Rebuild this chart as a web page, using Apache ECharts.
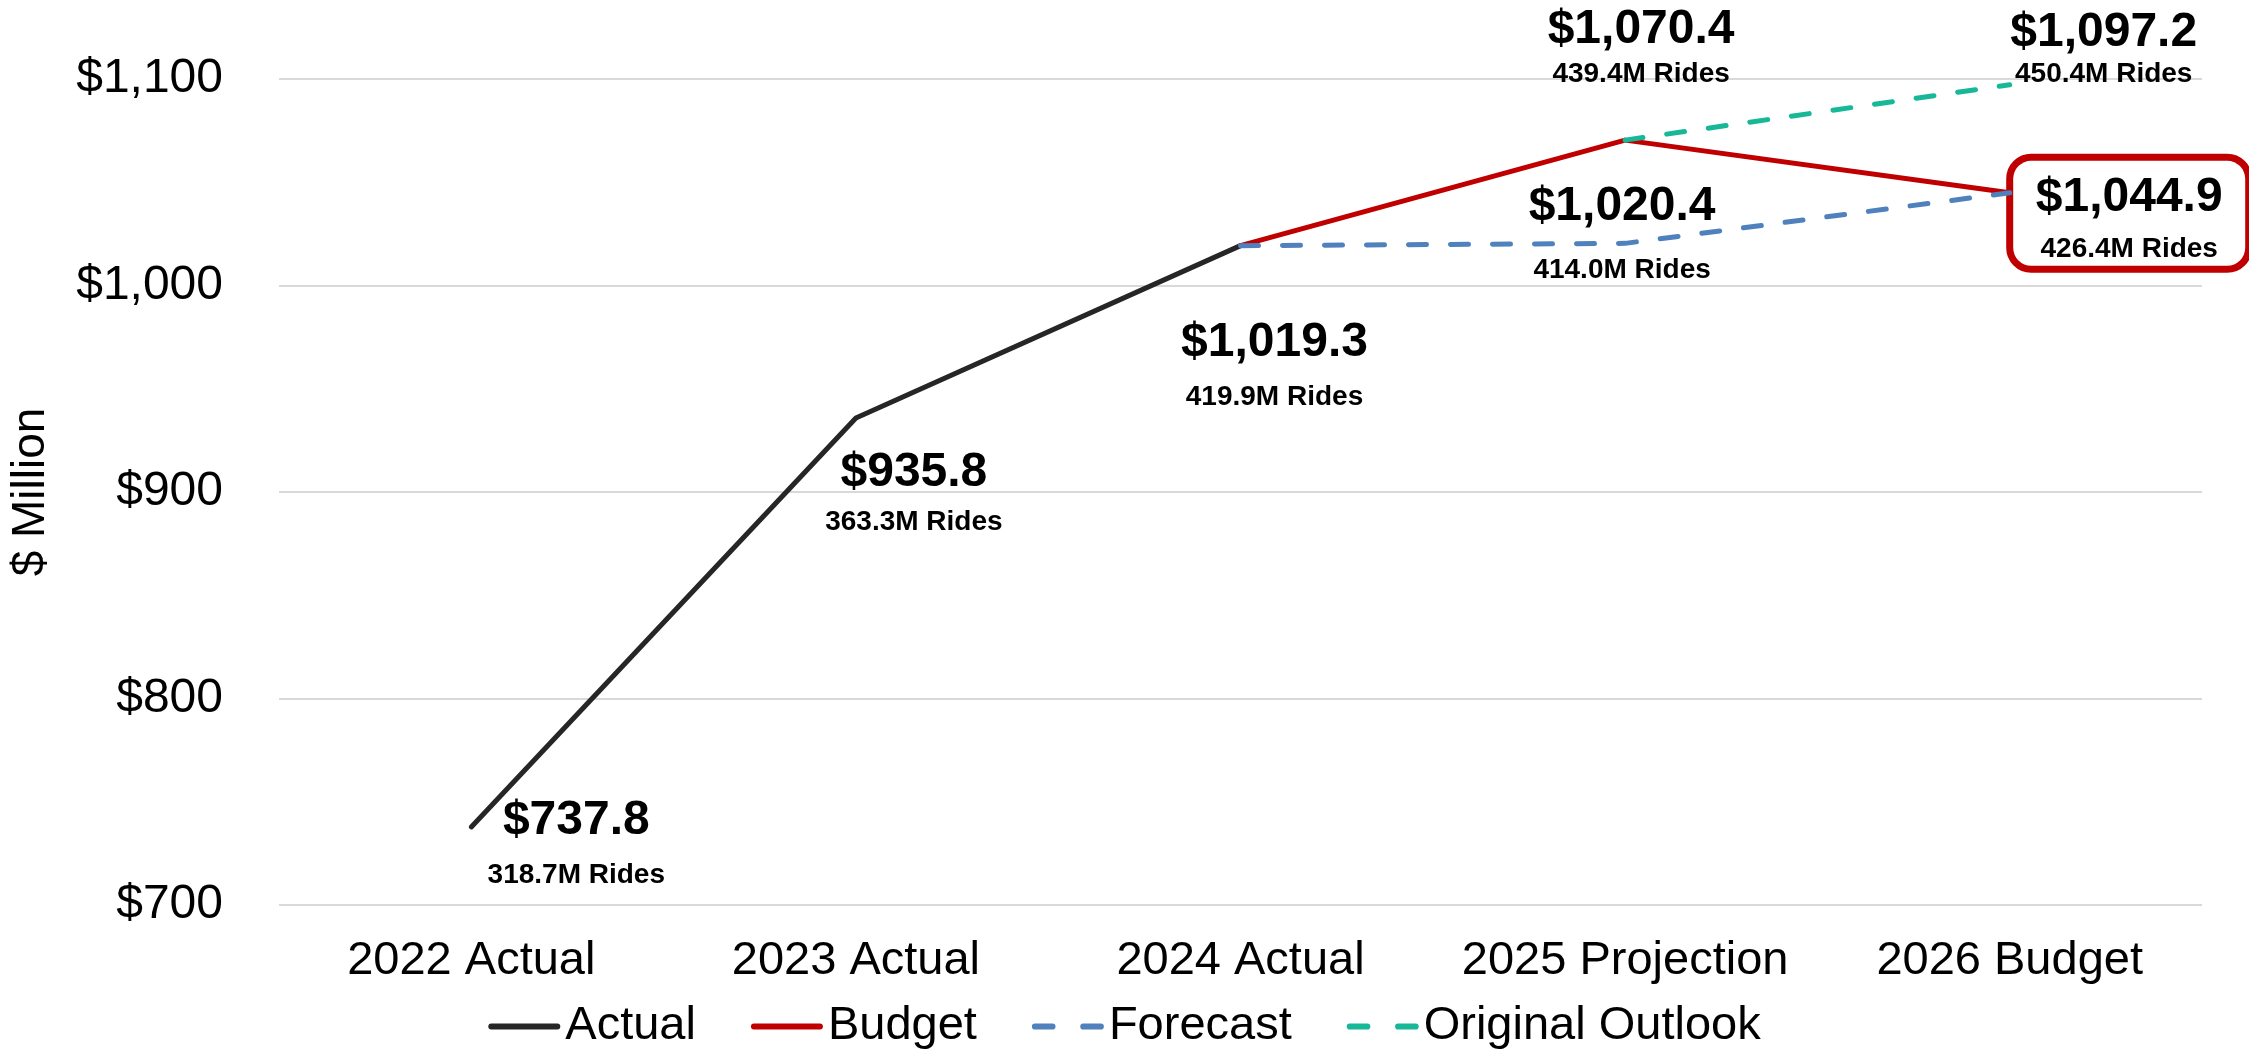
<!DOCTYPE html>
<html>
<head>
<meta charset="utf-8">
<script src="https://cdn.jsdelivr.net/npm/echarts@6/dist/echarts.min.js"></script>
<style>
  html, body { margin: 0; padding: 0; background: #ffffff; }
  #chart { width: 2249px; height: 1049px; }
</style>
</head>
<body>
<div id="chart"></div>
<script>
// Fare revenue ($ million) by year, with ridership notes
const categories = ['2022 Actual', '2023 Actual', '2024 Actual', '2025 Projection', '2026 Budget'];
const actualValues   = [737.8, 935.8, 1019.3, null, null];
const budgetValues   = [null, null, 1019.3, 1070.4, 1044.9];
const forecastValues = [null, null, 1019.3, 1020.4, 1044.9];
const outlookValues  = [null, null, null, 1070.4, 1097.2];

const actualRides   = ['318.7M Rides', '363.3M Rides', '419.9M Rides', null, null];
const budgetRides   = [null, null, null, '439.4M Rides', '426.4M Rides'];
const forecastRides = [null, null, null, '414.0M Rides', null];
const outlookRides  = [null, null, null, null, '450.4M Rides'];

const yTicks = [700, 800, 900, 1000, 1100];

const FONT = '"Liberation Sans", Arial, Helvetica, sans-serif';
const COLORS = { actual: '#262626', budget: '#C00000', forecast: '#4F81BD', outlook: '#17B897' };

// label placement: [dx, dy] from the point, and spacing between the two text lines
const actualPlace   = [[105, 10, 54], [58, 71, 49], [34, 113.5, 54.5], null, null];
const budgetPlace   = [null, null, null, [16, -94.6, 45], 'box'];
const forecastPlace = [null, null, null, [-3, -20.5, 63.5], null];
const outlookPlace  = [null, null, null, null, [94, -36, 41.5]];

function money(v) {
  return '$' + v.toLocaleString('en-US', { minimumFractionDigits: 1, maximumFractionDigits: 1 });
}

function richStyles(lv, lr) {
  return {
    v: { fontFamily: FONT, fontWeight: 'bold', fontSize: 48, lineHeight: lv, color: '#000' },
    r: { fontFamily: FONT, fontWeight: 'bold', fontSize: 28, lineHeight: lr, color: '#000' }
  };
}

function makeLabel(value, rides, place) {
  const text = '{v|' + money(value) + '}\n{r|' + rides + '}';
  if (place === 'box') {
    return {
      show: true, position: 'inside', offset: [119.5, 20.5],
      formatter: text, align: 'center', verticalAlign: 'middle',
      width: 232, padding: [1, 0, 2, 0],
      backgroundColor: '#ffffff', borderColor: '#C00000', borderWidth: 7, borderRadius: 18,
      rich: richStyles(72, 30)
    };
  }
  const lr = 32;
  const lv = 2 * place[2] - lr;
  return {
    show: true, position: 'inside', offset: [place[0], place[1]],
    formatter: text, align: 'center', verticalAlign: 'middle',
    rich: richStyles(lv, lr)
  };
}

function lineSeries(name, values, rides, places, color, dashed, z) {
  return {
    name: name,
    type: 'line',
    z: z,
    data: values.map(function (v, i) {
      if (v == null) return null;
      if (places[i] && rides[i]) return { value: v, label: makeLabel(v, rides[i], places[i]) };
      return { value: v, label: { show: false } };
    }),
    symbol: 'circle',
    symbolSize: 1,
    showSymbol: true,
    itemStyle: { color: color },
    lineStyle: { color: color, width: 5, type: dashed ? [18, 24] : 'solid', cap: 'round', join: 'round' },
    connectNulls: false,
    silent: true,
    emphasis: { disabled: true }
  };
}

const solidIcon = 'path://M3,0H69A3,3,0,0,1,69,6H3A3,3,0,0,1,3,0Z';
const dashIcon = 'path://M3,0H20A3,3,0,0,1,20,6H3A3,3,0,0,1,3,0ZM50,0H67A3,3,0,0,1,67,6H50A3,3,0,0,1,50,0Z';

const chart = echarts.init(document.getElementById('chart'), null, { renderer: 'canvas' });
chart.setOption({
  animation: false,
  backgroundColor: '#ffffff',
  textStyle: { fontFamily: FONT },
  grid: { left: 273, right: 47, top: 79, bottom: 144, containLabel: false },
  legend: {
    top: 998,
    left: 'center',
    itemWidth: 72,
    itemHeight: 7,
    itemGap: 55,
    selectedMode: false,
    textStyle: { fontFamily: FONT, fontSize: 47, color: '#000', lineHeight: 47 },
    data: [
      { name: 'Actual', icon: solidIcon },
      { name: 'Budget', icon: solidIcon },
      { name: 'Forecast', icon: dashIcon },
      { name: 'Original Outlook', icon: dashIcon }
    ]
  },
  xAxis: {
    type: 'category',
    data: categories,
    boundaryGap: true,
    axisLine: { show: false },
    axisTick: { show: false },
    axisLabel: { fontFamily: FONT, fontSize: 47, color: '#000', margin: 33, lineHeight: 47, interval: 0 }
  },
  yAxis: {
    type: 'value',
    min: yTicks[0],
    max: yTicks[yTicks.length - 1],
    interval: 100,
    name: '$ Million',
    nameLocation: 'middle',
    nameGap: 225,
    nameRotate: 90,
    nameTextStyle: { fontFamily: FONT, fontSize: 46, color: '#000' },
    axisLine: { show: false },
    axisTick: { show: false },
    splitLine: { lineStyle: { color: '#D9D9D9', width: 2 } },
    axisLabel: {
      fontFamily: FONT, fontSize: 48, color: '#000', margin: 56,
      formatter: function (v) { return '$' + v.toLocaleString('en-US'); }
    }
  },
  series: [
    lineSeries('Actual', actualValues, actualRides, actualPlace, COLORS.actual, false, 2),
    lineSeries('Budget', budgetValues, budgetRides, budgetPlace, COLORS.budget, false, 3),
    lineSeries('Forecast', forecastValues, forecastRides, forecastPlace, COLORS.forecast, true, 4),
    lineSeries('Original Outlook', outlookValues, outlookRides, outlookPlace, COLORS.outlook, true, 5)
  ]
});
</script>
</body>
</html>
